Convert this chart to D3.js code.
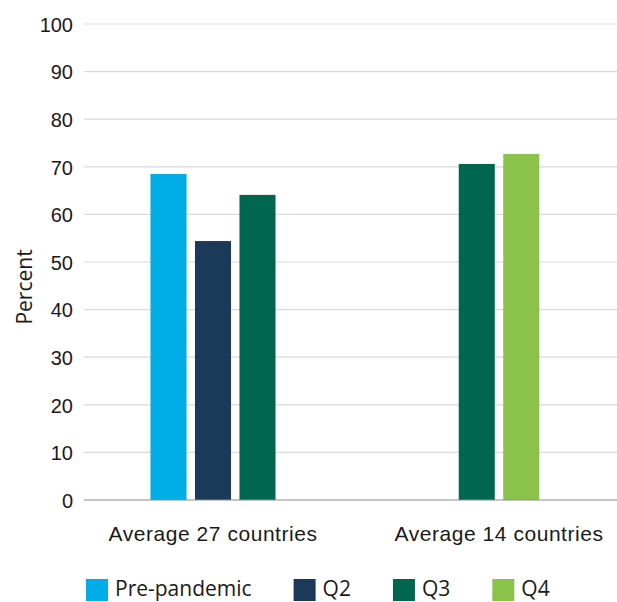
<!DOCTYPE html>
<html>
<head>
<meta charset="utf-8">
<script src="https://cdn.jsdelivr.net/npm/d3@7"></script>
<style>
  body { margin: 0; background: #fff; }
  svg { display: block; font-family: "Open Sans", "Noto Sans", sans-serif; }
  .y-axis .tick text { font-size: 20px; fill: #1a1a1a; }
  .x-axis .tick text { font-size: 21px; letter-spacing: 0.55px; fill: #1a1a1a; }
</style>
</head>
<body>
<div id="chart"></div>
<script>
// data
const categories = ['Average 27 countries', 'Average 14 countries'];
const seriesNames = ['Pre-pandemic', 'Q2', 'Q3', 'Q4'];
const prePandemic = [68.5, null];
const q2 = [54.4, null];
const q3 = [64.1, 70.6];
const q4 = [null, 72.7];
const yTicks = [0, 10, 20, 30, 40, 50, 60, 70, 80, 90, 100];

const colors = ['#00ade6', '#1b3a5a', '#006650', '#8bc34a'];
const seriesValues = [prePandemic, q2, q3, q4];

// dimensions
const WIDTH = 617;
const HEIGHT = 602;
const PLOT_LEFT = 84;
const PLOT_RIGHT = 617;

const $svg = d3.select('#chart').append('svg')
  .attr('width', WIDTH)
  .attr('height', HEIGHT);

// scales
const yScale = d3.scaleLinear().domain([0, 100]).range([500, 24]);
const x0 = d3.scaleBand().domain(categories).range([70, 642]);
const SLOT = 44.5;

// gridlines
const $grid = $svg.append('g').attr('class', 'g-grid');
$grid.selectAll('line')
  .data(yTicks.filter(d => d > 0))
  .join('line')
  .attr('x1', PLOT_LEFT)
  .attr('x2', PLOT_RIGHT)
  .attr('y1', d => yScale(d))
  .attr('y2', d => yScale(d))
  .attr('stroke', '#d9d9d9')
  .attr('stroke-width', 1.2);

// y axis labels
const $yAxis = $svg.append('g')
  .attr('class', 'y-axis')
  .attr('transform', `translate(${PLOT_LEFT}, 0)`)
  .call(d3.axisLeft(yScale).tickValues(yTicks).tickSize(0).tickPadding(11));
$yAxis.select('.domain').remove();
$yAxis.selectAll('text').attr('dy', '0.36em');

// bars
categories.forEach((cat, i) => {
  const present = seriesNames
    .map((s, j) => ({ series: s, color: colors[j], value: seriesValues[j][i] }))
    .filter(d => d.value != null);
  const n = present.length;
  const x1 = d3.scaleBand()
    .domain(present.map(d => d.series))
    .range([-n * SLOT / 2, n * SLOT / 2])
    .paddingInner(0.19)
    .paddingOuter(0.095);
  const cx = x0(cat) + x0.bandwidth() / 2;
  $svg.append('g')
    .attr('transform', `translate(${cx}, 0)`)
    .selectAll('rect')
    .data(present)
    .join('rect')
    .attr('x', d => x1(d.series))
    .attr('width', x1.bandwidth())
    .attr('y', d => yScale(d.value))
    .attr('height', d => yScale(0) - yScale(d.value))
    .attr('fill', d => d.color);
});

// baseline
$svg.append('line')
  .attr('x1', PLOT_LEFT)
  .attr('x2', PLOT_RIGHT)
  .attr('y1', yScale(0))
  .attr('y2', yScale(0))
  .attr('stroke', '#8c8c8c')
  .attr('stroke-width', 1.2);

// category labels
const $xAxis = $svg.append('g')
  .attr('class', 'x-axis')
  .attr('transform', `translate(0, ${yScale(0)})`)
  .call(d3.axisBottom(x0).tickSize(0).tickPadding(0));
$xAxis.select('.domain').remove();
$xAxis.selectAll('text').attr('dy', '41px').attr('y', 0);

// y axis title
$svg.append('text')
  .attr('transform', `translate(32, 287) rotate(-90)`)
  .attr('text-anchor', 'middle')
  .attr('font-size', 21)
  .attr('fill', '#1a1a1a')
  .text('Percent');

// legend
const $legend = $svg.append('g').attr('transform', 'translate(86, 579)');
let lx = 0;
seriesNames.forEach((s, j) => {
  const $item = $legend.append('g').attr('transform', `translate(${lx}, 0)`);
  $item.append('rect')
    .attr('width', 22)
    .attr('height', 22)
    .attr('fill', colors[j]);
  const $t = $item.append('text')
    .attr('x', 29)
    .attr('y', 17)
    .attr('font-size', 21)
    .attr('fill', '#1a1a1a')
    .text(s);
  lx += 29 + $t.node().getComputedTextLength() + 42;
});
</script>
</body>
</html>
